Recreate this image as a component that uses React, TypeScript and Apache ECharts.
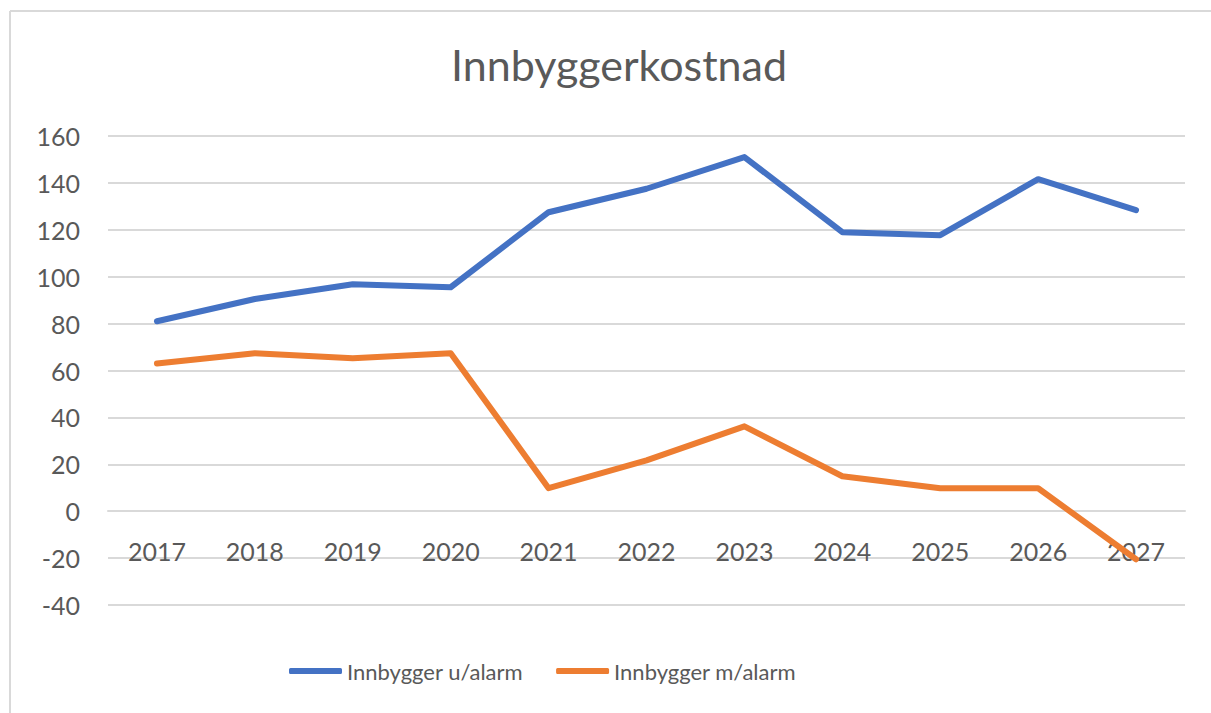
import React, { useEffect, useRef } from "react";
import * as echarts from "echarts";

const years = ["2017", "2018", "2019", "2020", "2021", "2022", "2023", "2024", "2025", "2026", "2027"];
const utenAlarm = [81, 90.5, 96.8, 95.5, 127.5, 137.5, 151, 119, 117.7, 141.6, 128.4];
const medAlarm = [63, 67.4, 65.2, 67.4, 9.8, 21.7, 36.2, 14.9, 9.8, 9.8, -20.5];
const seriesNames = ["Innbygger u/alarm", "Innbygger m/alarm"];
const titleText = "Innbyggerkostnad";

const FONT = "Lato";
const TEXT = "#595959";
const GRID = "#d9d9d9";

export default function App() {
  const ref = useRef<HTMLDivElement>(null);
  useEffect(() => {
    const chart = echarts.init(ref.current!, null, { renderer: "svg" });
    chart.setOption({
      animation: false,
      backgroundColor: "#ffffff",
      title: {
        text: titleText,
        left: 446,
        top: 38,
        textStyle: { fontFamily: FONT, fontSize: 43, fontWeight: "normal", color: TEXT },
      },
      graphic: [
        { type: "line", shape: { x1: 10, y1: 11, x2: 1211, y2: 11 }, style: { stroke: GRID, lineWidth: 2 } },
        { type: "line", shape: { x1: 10, y1: 11, x2: 10, y2: 713 }, style: { stroke: GRID, lineWidth: 2 } },
      ],
      legend: {
        bottom: 26,
        left: 284,
        itemWidth: 53,
        itemHeight: 6,
        itemGap: 33,
        icon: "roundRect",
        textStyle: { fontFamily: FONT, fontSize: 22, color: TEXT },
        data: seriesNames,
      },
      grid: { left: 108, right: 26, top: 136, bottom: 108, containLabel: false },
      xAxis: {
        type: "category",
        data: years,
        boundaryGap: true,
        offset: -94,
        axisLine: { show: true, onZero: false, lineStyle: { color: GRID, width: 2 } },
        axisTick: { show: false },
        axisLabel: { fontFamily: FONT, fontSize: 25, color: TEXT, margin: 27 },
      },
      yAxis: {
        type: "value",
        min: -40,
        max: 160,
        interval: 20,
        axisLine: { show: false },
        axisTick: { show: false },
        splitLine: { lineStyle: { color: GRID, width: 2 } },
        axisLabel: { fontFamily: FONT, fontSize: 25, color: TEXT, margin: 28 },
      },
      series: [
        {
          name: seriesNames[0],
          type: "line",
          data: utenAlarm,
          symbol: "none",
          itemStyle: { color: "#4472C4" },
          lineStyle: { color: "#4472C4", width: 6, cap: "round", join: "round" },
        },
        {
          name: seriesNames[1],
          type: "line",
          data: medAlarm,
          symbol: "none",
          itemStyle: { color: "#ED7D31" },
          lineStyle: { color: "#ED7D31", width: 6, cap: "round", join: "round" },
        },
      ],
    });
    return () => chart.dispose();
  }, []);
  return (
    <div
      ref={ref}
      style={{ position: "absolute", left: 0, top: 0, width: 1211, height: 713 }}
    />
  );
}
